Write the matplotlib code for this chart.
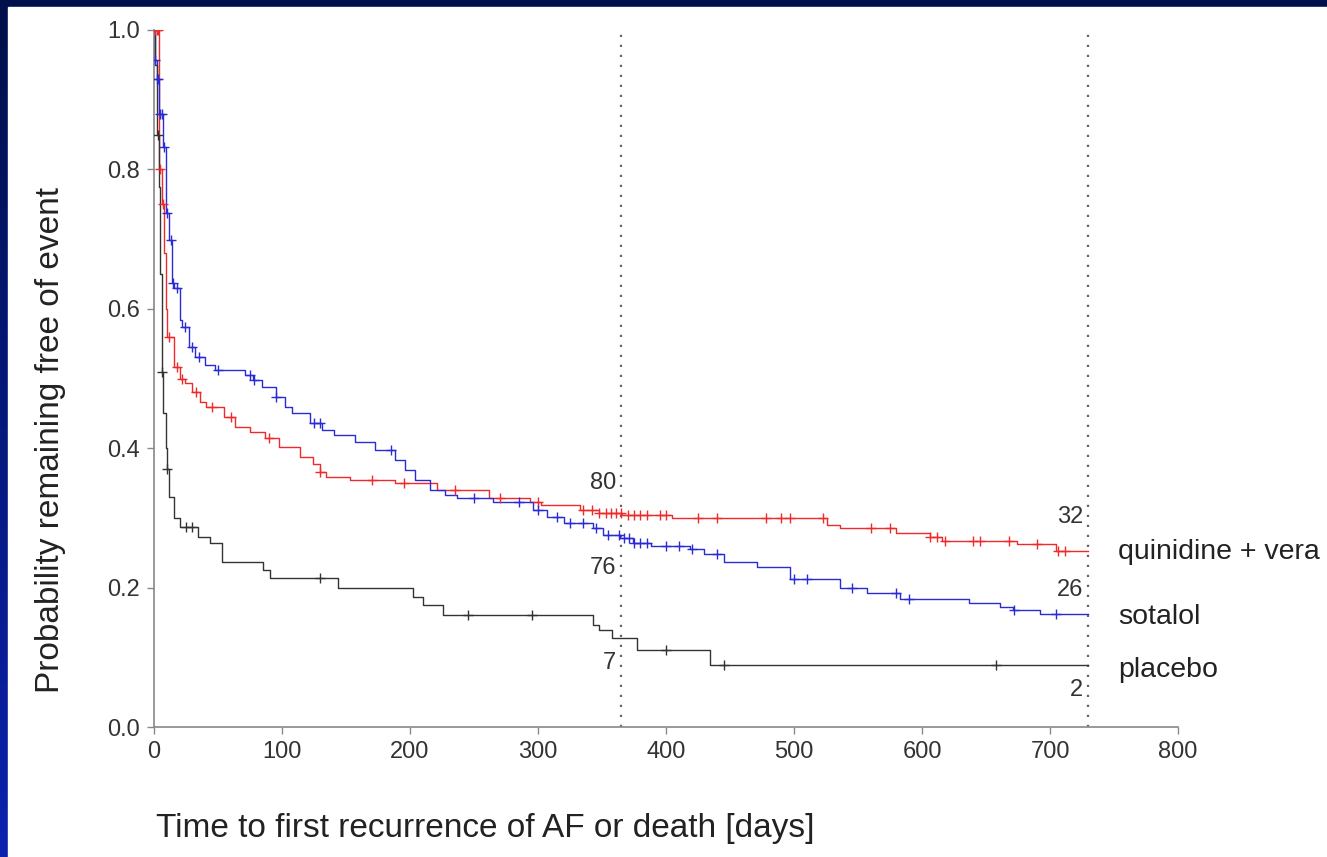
import numpy as np
import matplotlib
matplotlib.use('Agg')
import matplotlib.pyplot as plt
from matplotlib.colors import LinearSegmentedColormap
from matplotlib.patches import Rectangle

plt.rcParams['font.family'] = ['Liberation Sans', 'DejaVu Sans']

# Kaplan-Meier steps (days, survival after the step)
quin_t = [0, 4, 6, 8, 9, 10, 16, 20, 24, 30, 36, 41, 55, 63, 75, 87, 98, 114, 124, 130,
          134, 153, 188, 221, 262, 294, 302, 333, 348, 366, 405, 526, 536, 580, 606, 616,
          674, 705]
quin_s = [1.0, 0.80, 0.75, 0.68, 0.60, 0.56, 0.517, 0.50, 0.493, 0.48, 0.466, 0.459, 0.445,
          0.43, 0.423, 0.415, 0.402, 0.387, 0.378, 0.366, 0.359, 0.354, 0.35, 0.34, 0.329,
          0.323, 0.318, 0.311, 0.307, 0.304, 0.30, 0.29, 0.285, 0.278, 0.273, 0.267, 0.262,
          0.253]
quin_cens = [1, 2, 3, 5, 7, 12, 18, 22, 33, 45, 60, 90, 130, 170, 195, 235, 270, 300, 335,
             342, 348, 353, 357, 361, 365, 370, 375, 380, 385, 395, 400, 425, 440, 478, 490,
             497, 523, 560, 575, 606, 612, 618, 640, 645, 668, 690, 706, 712]

sot_t = [0, 1, 2, 4, 7, 9, 12, 14, 16, 20, 22, 27, 32, 40, 48, 71, 77, 84, 95, 102, 108,
         122, 131, 141, 157, 173, 188, 196, 204, 216, 227, 237, 265, 296, 307, 320, 343,
         351, 364, 374, 388, 419, 430, 445, 471, 497, 536, 557, 583, 637, 661, 671, 692]
sot_s = [1.0, 0.957, 0.93, 0.88, 0.832, 0.737, 0.699, 0.637, 0.63, 0.584, 0.574, 0.545,
         0.531, 0.519, 0.512, 0.505, 0.498, 0.488, 0.473, 0.459, 0.45, 0.436, 0.426, 0.419,
         0.409, 0.397, 0.383, 0.369, 0.354, 0.34, 0.333, 0.329, 0.323, 0.311, 0.301, 0.293,
         0.285, 0.275, 0.271, 0.264, 0.26, 0.255, 0.248, 0.237, 0.23, 0.212, 0.20, 0.192,
         0.184, 0.178, 0.172, 0.168, 0.162]
sot_cens = [1, 2, 3, 5, 6, 8, 10, 13, 15, 18, 24, 30, 35, 50, 75, 78, 95, 125, 130, 185,
            250, 285, 300, 315, 325, 335, 345, 355, 363, 367, 371, 375, 380, 385, 400, 410,
            420, 440, 500, 510, 545, 580, 590, 672, 705]

plac_t = [0, 1, 2, 4, 5, 6, 7, 9, 10, 12, 16, 20, 34, 44, 53, 85, 91, 144, 202, 210, 226,
          343, 348, 358, 377, 434]
plac_s = [1.0, 0.95, 0.85, 0.775, 0.65, 0.51, 0.45, 0.40, 0.37, 0.33, 0.30, 0.287, 0.273,
          0.264, 0.237, 0.225, 0.214, 0.20, 0.187, 0.175, 0.16, 0.146, 0.139, 0.128, 0.11,
          0.089]
plac_cens = [3, 6, 10, 25, 30, 130, 245, 295, 400, 445, 658]

end_day = 730
arms = [
    ("quinidine + vera", quin_t, quin_s, quin_cens, '#ee2a2a'),
    ("sotalol", sot_t, sot_s, sot_cens, '#2b2bd6'),
    ("placebo", plac_t, plac_s, plac_cens, '#333333'),
]
risk_1y = ["80", "76", "7"]
risk_2y = ["32", "26", "2"]
x_ticks = [0, 100, 200, 300, 400, 500, 600, 700, 800]
y_ticks = [0.0, 0.2, 0.4, 0.6, 0.8, 1.0]

W, H = 1327, 857
fig = plt.figure(figsize=(W / 100, H / 100), dpi=100)

# blue slide background with white panel
bg = fig.add_axes([0, 0, 1, 1], zorder=-2)
cmap = LinearSegmentedColormap.from_list('slide', ['#00104a', '#0a22ae'])
bg.imshow(np.linspace(0, 1, 256).reshape(-1, 1), aspect='auto', cmap=cmap,
          extent=[0, 1, 0, 1], origin='upper')
bg.add_patch(Rectangle((8 / W, 0), 1, (H - 7) / H, color='white', transform=bg.transAxes))
bg.set_xlim(0, 1)
bg.set_ylim(0, 1)
bg.axis('off')

ax = fig.add_axes([154 / W, (H - 727) / H, 1024 / W, 697 / H])
ax.set_facecolor('none')

for name, t, s, cens, col in arms:
    tt = np.append(t, end_day)
    ss = np.append(s, s[-1])
    ax.step(tt, ss, where='post', color=col, lw=1.0, zorder=3)
    c = np.array(cens)
    cy = np.array(s)[np.searchsorted(t, c, side='right') - 1]
    ax.plot(c, cy, ls='none', marker='+', ms=7, mew=1.0, color=col, zorder=4)

for d in (365, 730):
    ax.axvline(d, ymin=0, ymax=1, color='#666666', lw=1.6, ls=(0, (1, 3.5)), zorder=2)

# numbers at risk and group names
num_kw = dict(fontsize=17, color='#333333', ha='right', va='center')
for txt, y in zip(risk_1y, [0.35, 0.228, 0.092]):
    ax.text(361, y, txt, **num_kw)
for txt, y in zip(risk_2y, [0.301, 0.197, 0.053]):
    ax.text(726, y, txt, **num_kw)
for (name, *_), y in zip(arms, [0.251, 0.158, 0.082]):
    ax.text(753, y, name, fontsize=20.5, color='#222222', ha='left', va='center',
            clip_on=False)

ax.set_xlim(0, 800)
ax.set_ylim(0, 1)
ax.set_xticks(x_ticks)
ax.set_yticks(y_ticks)
ax.set_yticklabels([f"{v:.1f}" for v in y_ticks])
for side in ('top', 'right'):
    ax.spines[side].set_visible(False)
for side in ('left', 'bottom'):
    ax.spines[side].set_color('#888888')
    ax.spines[side].set_linewidth(1.2)
ax.tick_params(direction='out', length=5, width=1, color='#888888', labelsize=17,
               labelcolor='#333333', pad=5)

fig.text(50 / W, 1 - 440 / H, "Probability remaining free of event", rotation=90,
         ha='center', va='center', fontsize=24, color='#222222')
fig.text(485 / W, 1 - 828 / H, "Time to first recurrence of AF or death [days]",
         ha='center', va='center', fontsize=24, color='#222222')

fig.savefig('out.png', dpi=100)
